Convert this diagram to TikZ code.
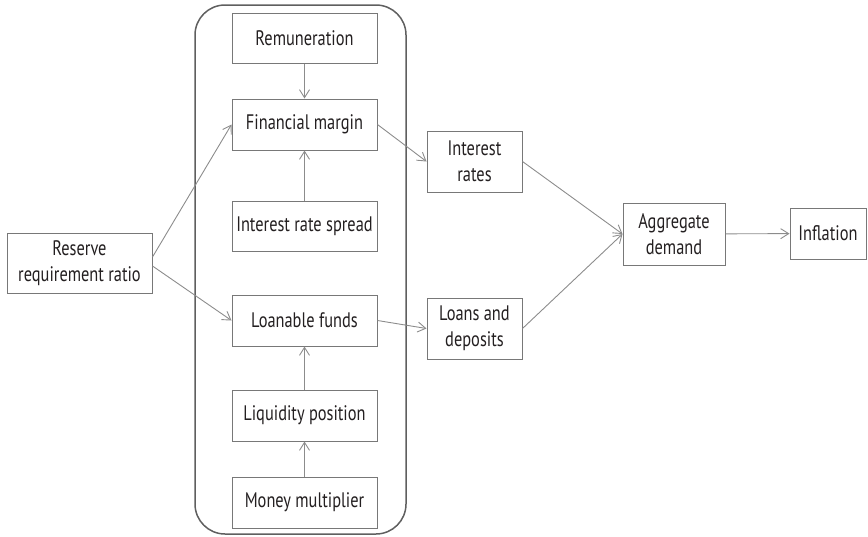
\documentclass[tikz,border=0pt]{standalone}
\usepackage{fontspec}
\setmainfont[FakeStretch=0.78]{PT Sans}
\usepackage{tikz}
\usepackage{xcolor}
\usetikzlibrary{arrows.meta}

\definecolor{linegray}{RGB}{140,140,140}
\definecolor{boxgray}{RGB}{120,120,120}
\definecolor{framegray}{RGB}{95,95,95}
\definecolor{textdark}{RGB}{35,31,32}

\tikzset{
box/.style={draw=boxgray,line width=1pt,text=textdark,align=center,inner sep=0pt,font=\fontsize{21}{26}\selectfont},
flow/.style={->,draw=linegray,line width=0.9pt},
>={Straight Barb[length=8pt,width=10pt]}
}

\begin{document}
\begin{tikzpicture}[x=1pt,y=-1pt]
\useasboundingbox (0,0) rectangle (868,536);
\draw[framegray,line width=1.5pt,rounded corners=30pt] (195,5) rectangle (406,534);
\node[box,minimum width=145pt,minimum height=50pt] (rem) at (304.5,38) {Remuneration};
\node[box,minimum width=145pt,minimum height=51pt] (fin) at (304.5,124.5) {Financial margin};
\node[box,minimum width=145pt,minimum height=50pt] (irs) at (304.5,226) {Interest rate spread};
\node[box,minimum width=145pt,minimum height=51pt] (lf) at (304.5,320.5) {Loanable funds};
\node[box,minimum width=145pt,minimum height=51pt] (liq) at (304.5,415.5) {Liquidity position};
\node[box,minimum width=145pt,minimum height=51pt] (mm) at (304.5,502.5) {Money multiplier};
\node[box,minimum width=145pt,minimum height=60pt] (rrr) at (79.5,263) {Reserve\\requirement ratio};
\node[box,minimum width=95pt,minimum height=61pt] (ir) at (474.5,161.5) {Interest\\rates};
\node[box,minimum width=95pt,minimum height=61pt] (ld) at (474.5,328.5) {Loans and\\deposits};
\node[box,minimum width=102pt,minimum height=62pt] (ad) at (674,234) {Aggregate\\demand};
\node[box,minimum width=76pt,minimum height=51pt] (inf) at (828,233.5) {Inflation};
\draw[flow] (rem) -- (fin);
\draw[flow] (irs) -- (fin);
\draw[flow] (liq) -- (lf);
\draw[flow] (mm) -- (liq);
\draw[flow] ([yshift=6pt]rrr.east) -- (fin.west);
\draw[flow] ([yshift=-3pt]rrr.east) -- (lf.west);
\draw[flow] (fin.east) -- (ir.west);
\draw[flow] (lf.east) -- (ld.west);
\draw[flow] (ir.east) -- (ad.west);
\draw[flow] (ld.east) -- (ad.west);
\draw[flow] (ad) -- (inf);
\end{tikzpicture}
\end{document}
